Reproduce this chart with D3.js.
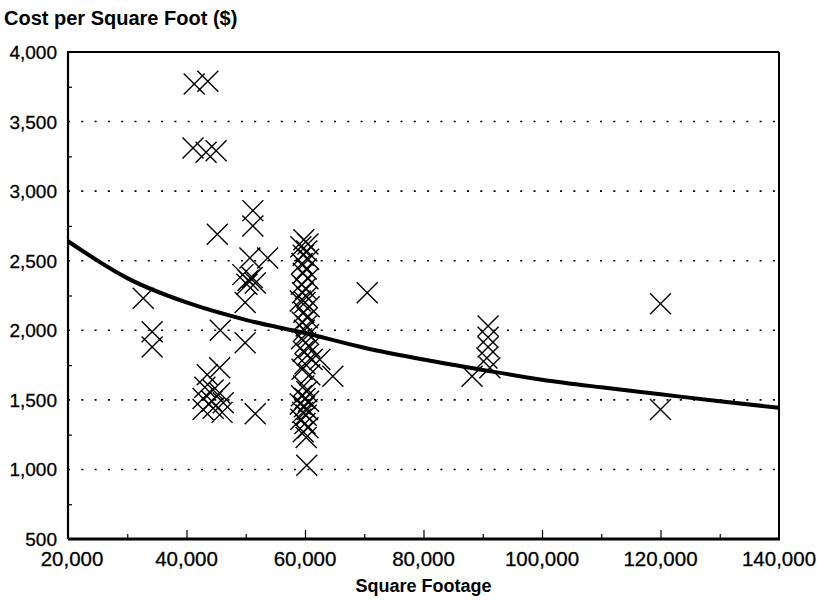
<!DOCTYPE html>
<html>
<head>
<meta charset="utf-8">
<script src="https://cdn.jsdelivr.net/npm/d3@7"></script>
<style>
  body { margin: 0; background: #fff; }
  svg { display: block; }
  text { font-family: "Liberation Sans", Arial, sans-serif; fill: #000; }
  .tick-label { stroke: #000; stroke-width: 0.3px; }
</style>
</head>
<body>
<div id="chartArea"></div>
<script>
// building size (sq ft) and cost per sq ft
const sqft = [
  32700, 34200, 34200, 41300, 43600, 41100, 43300, 45000, 45200, 45700,
  49900, 51200, 51200, 50700, 53700, 49500, 50400, 51100, 50200, 51600,
  49900, 45600, 43500, 43100, 44500, 45600, 42800, 44300, 46200, 42800,
  44500, 46000, 51600,
  59800, 60500, 59300, 60300, 59700, 60600, 59500, 60200, 59700, 60500,
  59400, 60100, 59600, 60300, 59200, 60000, 60700, 59800, 60400, 59500,
  60200, 59900, 60600, 59400, 60100, 60800, 59700, 60400, 61200, 60000,
  59500, 60800, 59800, 60300, 59400, 60000, 60600, 59200, 59900, 60400,
  59600, 60200, 59300, 60000, 60500, 59700, 60200, 60300,
  62500, 64700, 70500,
  90900, 90900, 90900, 90700, 91200, 88200,
  120000, 120000
];
const cost = [
  2230, 1990, 1880, 3770, 3790, 3310, 3280, 3290, 2690, 2000,
  1910, 2860, 2750, 2520, 2520, 2400, 2360, 2380, 2330, 2340,
  2200, 1730, 1680, 1590, 1570, 1550, 1510, 1490, 1480, 1430,
  1440, 1410, 1400,
  2650, 2620, 2600, 2570, 2540, 2510, 2480, 2440, 2410, 2370,
  2330, 2300, 2270, 2240, 2210, 2200, 2170, 2130, 2090, 2060,
  2030, 2000, 1970, 1940, 1910, 1880, 1850, 1820, 1790, 1760,
  1720, 1680, 1600, 1560, 1530, 1510, 1490, 1470, 1450, 1430,
  1410, 1390, 1360, 1330, 1300, 1270, 1230, 1030,
  1790, 1670, 2270,
  2030, 1950, 1880, 1800, 1730, 1670,
  2190, 1430
];

// fitted trend line, read at every 10,000 sq ft
const trendX = [20000, 30000, 40000, 50000, 60000, 70000, 80000, 90000, 100000, 110000, 120000, 130000, 140000];
const trendY = [2640, 2375, 2200, 2075, 1980, 1875, 1790, 1715, 1645, 1590, 1540, 1490, 1443];

const xTicks = [20000, 40000, 60000, 80000, 100000, 120000, 140000];
const yTicks = [500, 1000, 1500, 2000, 2500, 3000, 3500, 4000];
const gridTicks = [1000, 1500, 2000, 2500, 3000, 3500];

const W = 817, H = 601;
const svg = d3.select("#chartArea").append("svg")
  .attr("width", W).attr("height", H);

const x = d3.scaleLinear().domain([20000, 140000]).range([68, 779]);
const y = d3.scaleLinear().domain([500, 4000]).range([539, 52]);
const fmt = d3.format(",");

// dotted gridlines
svg.append("g").selectAll("line").data(gridTicks).enter().append("line")
  .attr("x1", x(20000)).attr("x2", x(140000))
  .attr("y1", d => y(d)).attr("y2", d => y(d))
  .attr("stroke", "#000").attr("stroke-width", 1.6)
  .attr("stroke-dasharray", "2,11.3");

// frame
svg.append("line").attr("x1", x(20000)).attr("x2", x(140000))
  .attr("y1", y(4000)).attr("y2", y(4000)).attr("stroke", "#000").attr("stroke-width", 2);
svg.append("line").attr("x1", x(140000)).attr("x2", x(140000))
  .attr("y1", y(4000)).attr("y2", y(500)).attr("stroke", "#000").attr("stroke-width", 2);

// y axis: minor ticks inside, labels left
const yAxis = d3.axisRight(y)
  .tickValues(d3.range(750, 4000, 500))
  .tickSize(4).tickFormat("");
svg.append("g").attr("transform", `translate(${x(20000)},0)`).call(yAxis)
  .call(g => g.select(".domain").remove())
  .call(g => g.selectAll("line").attr("stroke-width", 1.2));
svg.append("g").selectAll("text").data(yTicks).enter().append("text")
  .attr("class", "tick-label")
  .attr("x", 57).attr("y", d => y(d) + 7)
  .attr("text-anchor", "end").style("font-size", "19px")
  .text(fmt);

// x axis ticks pointing up
const xMinor = d3.axisTop(x).tickValues(d3.range(30000, 140000, 20000)).tickSize(5).tickFormat("");
const xMajor = d3.axisTop(x).tickValues(xTicks.slice(1, -1)).tickSize(9).tickFormat("");
[xMinor, xMajor].forEach(a => {
  svg.append("g").attr("transform", `translate(0,${y(500)})`).call(a)
    .call(g => g.select(".domain").remove())
    .call(g => g.selectAll("line").attr("stroke-width", 1.2));
});
svg.append("g").selectAll("text").data(xTicks).enter().append("text")
  .attr("class", "tick-label")
  .attr("x", d => x(d) + (d === 20000 ? 4 : 0)).attr("y", 566)
  .attr("text-anchor", "middle").style("font-size", "20.5px")
  .text(fmt);

svg.append("line").attr("x1", x(20000)).attr("x2", x(20000))
  .attr("y1", y(4000) - 1).attr("y2", y(500)).attr("stroke", "#000").attr("stroke-width", 2.2);
svg.append("line").attr("x1", x(20000)).attr("x2", x(140000) + 1)
  .attr("y1", y(500)).attr("y2", y(500)).attr("stroke", "#000").attr("stroke-width", 3);

// markers
const pts = sqft.map((d, i) => ({ x: d, y: cost[i] }));
const s = 10.5;
svg.append("g").selectAll("path").data(pts).enter().append("path")
  .attr("transform", d => `translate(${x(d.x)},${y(d.y)})`)
  .attr("d", `M${-s},${-s}L${s},${s}M${-s},${s}L${s},${-s}`)
  .attr("stroke", "#000").attr("stroke-width", 1.4).attr("fill", "none");

// trend curve
const line = d3.line().x(d => x(d[0])).y(d => y(d[1])).curve(d3.curveMonotoneX);
svg.append("path").datum(trendX.map((d, i) => [d, trendY[i]]))
  .attr("d", line).attr("fill", "none")
  .attr("stroke", "#000").attr("stroke-width", 4);

// titles
svg.append("text").attr("x", 4).attr("y", 25)
  .style("font-size", "20px").style("font-weight", "bold")
  .text("Cost per Square Foot ($)");
svg.append("text").attr("x", (x(20000) + x(140000)) / 2).attr("y", 592)
  .attr("text-anchor", "middle")
  .style("font-size", "18px").style("font-weight", "bold")
  .text("Square Footage");
</script>
</body>
</html>
